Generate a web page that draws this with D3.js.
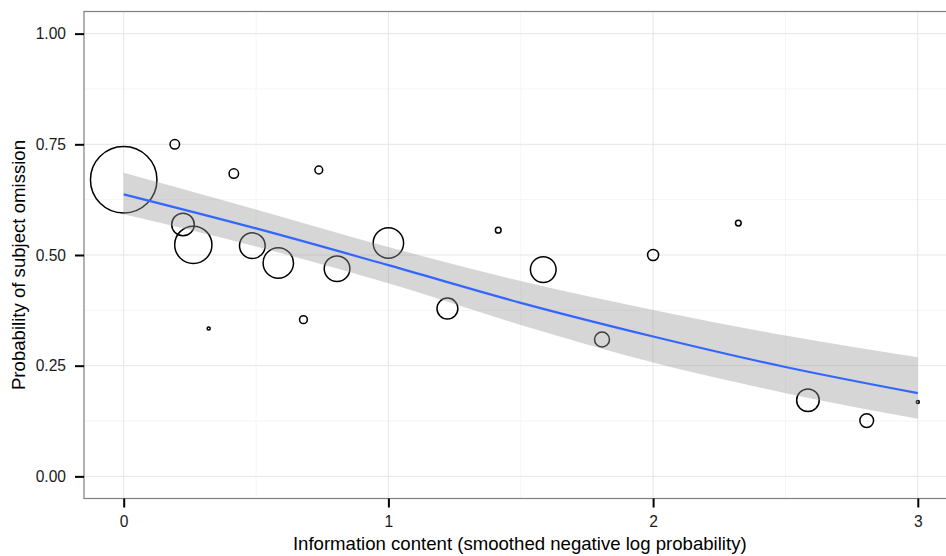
<!DOCTYPE html>
<html>
<head>
<meta charset="utf-8">
<script src="https://cdn.jsdelivr.net/npm/d3@7"></script>
<style>
  body { margin: 0; background: #fff; }
  text { font-family: "Liberation Sans", Arial, sans-serif; }
</style>
</head>
<body>
<svg id="chart"></svg>
<script>
// observed points: information content, omission rate, number of tokens
const infoContent = [0, 0.193, 0.224, 0.263, 0.321, 0.416, 0.486, 0.584, 0.679, 0.737, 0.806,
  1.0, 1.223, 1.415, 1.585, 1.807, 2.0, 2.322, 2.585, 2.807, 3.0];
const omission = [0.670, 0.750, 0.569, 0.523, 0.334, 0.684, 0.521, 0.482, 0.354, 0.692, 0.469,
  0.527, 0.379, 0.556, 0.467, 0.309, 0.500, 0.572, 0.172, 0.126, 0.168];
const tokens = [115, 4, 16, 39, 1, 4, 20, 27, 3, 3, 20,
  27, 14, 2, 20, 8, 5, 2, 16, 7, 1];

// fitted smooth with its confidence band
const smoothX = [0, 0.5, 1, 1.5, 2, 2.5, 3];
const smoothY = [0.637, 0.560, 0.477, 0.392, 0.316, 0.247, 0.188];
const smoothLo = [0.592, 0.519, 0.436, 0.342, 0.257, 0.188, 0.130];
const smoothHi = [0.686, 0.603, 0.518, 0.441, 0.376, 0.318, 0.269];

const xTicks = [0, 1, 2, 3];
const yTicks = [0, 0.25, 0.5, 0.75, 1];
const xMinor = [0.5, 1.5, 2.5];
const yMinor = [0.125, 0.375, 0.625, 0.875];

const width = 946, height = 556;
const pLeft = 84, pTop = 11.5, pRight = 957.5, pBottom = 498.5;

const svg = d3.select("#chart").attr("width", width).attr("height", height);

const x = d3.scaleLinear().domain([-0.15, 3.15]).range([pLeft, pRight]);
const y = d3.scaleLinear().domain([-0.05, 1.05]).range([pBottom, pTop]);
const r = d3.scaleSqrt().domain([1, 120]).range([1.5, 34]);

const panel = svg.append("g");

// grid
panel.append("g").selectAll("line").data(xMinor).join("line")
  .attr("x1", d => x(d)).attr("x2", d => x(d)).attr("y1", pTop).attr("y2", pBottom)
  .attr("stroke", "#f5f5f5").attr("stroke-width", 1);
panel.append("g").selectAll("line").data(yMinor).join("line")
  .attr("x1", pLeft).attr("x2", pRight).attr("y1", d => y(d)).attr("y2", d => y(d))
  .attr("stroke", "#f5f5f5").attr("stroke-width", 1);
panel.append("g").selectAll("line").data(xTicks).join("line")
  .attr("x1", d => x(d)).attr("x2", d => x(d)).attr("y1", pTop).attr("y2", pBottom)
  .attr("stroke", "#e6e6e6").attr("stroke-width", 1);
panel.append("g").selectAll("line").data(yTicks).join("line")
  .attr("x1", pLeft).attr("x2", pRight).attr("y1", d => y(d)).attr("y2", d => y(d))
  .attr("stroke", "#e6e6e6").attr("stroke-width", 1);

// points
const pts = infoContent.map((d, i) => ({ x: d, y: omission[i], n: tokens[i] }));
panel.append("g").selectAll("circle").data(pts).join("circle")
  .attr("cx", d => x(d.x)).attr("cy", d => y(d.y)).attr("r", d => r(d.n))
  .attr("fill", "none").attr("stroke", "#000").attr("stroke-width", 1.5);

// confidence band and fit
const band = smoothX.map((d, i) => ({ x: d, lo: smoothLo[i], hi: smoothHi[i], y: smoothY[i] }));
panel.append("path").datum(band)
  .attr("d", d3.area().curve(d3.curveMonotoneX)
    .x(d => x(d.x)).y0(d => y(d.lo)).y1(d => y(d.hi)))
  .attr("fill", "#999").attr("fill-opacity", 0.4);
panel.append("path").datum(band)
  .attr("d", d3.line().curve(d3.curveMonotoneX).x(d => x(d.x)).y(d => y(d.y)))
  .attr("fill", "none").attr("stroke", "#3366FF").attr("stroke-width", 2.2);

// panel border
svg.append("rect").attr("x", pLeft).attr("y", pTop).attr("width", pRight - pLeft).attr("height", pBottom - pTop)
  .attr("fill", "none").attr("stroke", "#7f7f7f").attr("stroke-width", 1.2);

// axes
const xAxis = svg.append("g").attr("transform", `translate(0,${pBottom})`)
  .call(d3.axisBottom(x).tickValues(xTicks).tickFormat(d3.format("d")).tickSize(9).tickPadding(8));
const yAxis = svg.append("g").attr("transform", `translate(${pLeft},0)`)
  .call(d3.axisLeft(y).tickValues(yTicks).tickFormat(d3.format(".2f")).tickSize(9).tickPadding(9));
[xAxis, yAxis].forEach(a => {
  a.select(".domain").remove();
  a.selectAll(".tick line").attr("stroke", "#000").attr("stroke-width", 2);
  a.selectAll(".tick text").attr("fill", "#1a1a1a").style("font-size", "15.6px");
});

svg.append("text")
  .attr("x", (pLeft + pRight) / 2 - 1).attr("y", 550)
  .attr("text-anchor", "middle").style("font-size", "18.6px")
  .text("Information content (smoothed negative log probability)");
svg.append("text")
  .attr("transform", `translate(25,265) rotate(-90)`)
  .attr("text-anchor", "middle").style("font-size", "18.6px")
  .text("Probability of subject omission");
</script>
</body>
</html>
